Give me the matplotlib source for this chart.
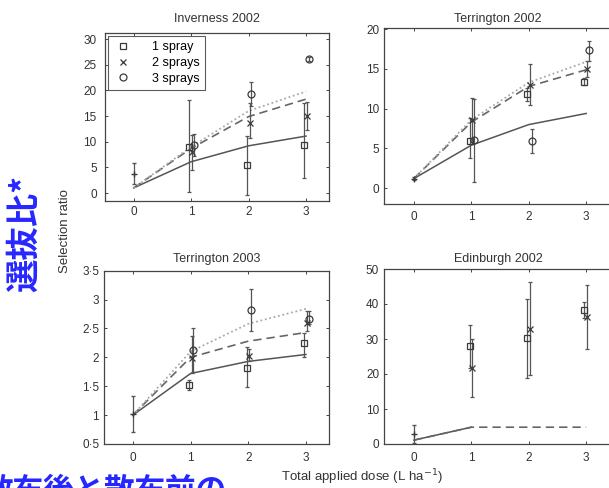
import matplotlib.pyplot as plt
from matplotlib.lines import Line2D

plt.rcParams['font.family'] = ['Liberation Sans', 'DejaVu Sans']

W, H = 609, 488

doses = [0, 1, 2, 3]
treated = [1, 2, 3]
spray_labels = ['1 spray', '2 sprays', '3 sprays']

# Inverness 2002
inv_fit1 = [1.0, 6.1, 9.2, 11.1]
inv_fit2 = [1.0, 8.7, 14.9, 18.3]
inv_fit3 = [1.0, 9.0, 16.0, 19.8]
inv_ctrl = [3.8, 1.75, 5.8]
inv_mean = [[9.0, 5.4, 9.3], [8.0, 13.6, 15.0], [9.3, 19.4, 26.2]]
inv_lo = [[0.1, -0.4, 3.0], [4.5, 10.8, 12.3], [7.2, 17.0, 25.8]]
inv_hi = [[18.2, 11.1, 17.6], [11.3, 17.5, 17.7], [11.5, 21.6, 26.6]]

# Terrington 2002
t02_fit1 = [1.2, 5.4, 8.0, 9.4]
t02_fit2 = [1.2, 8.3, 12.8, 14.9]
t02_fit3 = [1.2, 8.6, 13.3, 15.9]
t02_ctrl = [1.2, 1.0, 1.4]
t02_mean = [[5.9, 11.8, 13.4], [8.6, 13.0, 15.0], [6.0, 5.9, 17.4]]
t02_lo = [[3.8, 11.0, 13.0], [5.8, 10.5, 14.0], [0.8, 4.4, 16.0]]
t02_hi = [[8.8, 12.6, 13.9], [11.4, 15.6, 16.0], [11.2, 7.5, 18.5]]

# Terrington 2003
t03_fit1 = [1.0, 1.72, 1.93, 2.05]
t03_fit2 = [1.0, 2.0, 2.28, 2.43]
t03_fit3 = [1.0, 2.1, 2.58, 2.84]
t03_ctrl = [1.02, 0.71, 1.33]
t03_mean = [[1.53, 1.82, 2.24], [1.99, 2.02, 2.59], [2.13, 2.82, 2.67]]
t03_lo = [[1.44, 1.49, 2.01], [1.73, 1.93, 2.45], [1.75, 2.46, 2.58]]
t03_hi = [[1.6, 2.18, 2.42], [2.37, 2.14, 2.8], [2.5, 3.19, 2.8]]

# Edinburgh 2002 (no 3-spray plots)
edi_fit1 = [1.1, 4.8]
edi_fit2 = [1.1, 4.8, 4.8, 4.8]
edi_ctrl = [2.8, 0.3, 5.5]
edi_mean = [[28.0, 30.3, 38.4], [21.8, 32.9, 36.2]]
edi_lo = [[21.8, 18.9, 36.0], [13.3, 19.7, 27.1]]
edi_hi = [[34.0, 41.4, 40.5], [30.0, 46.3, 45.4]]

inv_yticks = [0, 5, 10, 15, 20, 25, 30]
t02_yticks = [0, 5, 10, 15, 20]
t03_yticks = [0.5, 1, 1.5, 2, 2.5, 3, 3.5]
t03_ylabels = ['0·5', '1', '1·5', '2', '2·5', '3', '3·5']
edi_yticks = [0, 10, 20, 30, 40, 50]

markers = ['s', 'x', 'o']
msizes = [4, 4.5, 5]
offsets = [-0.03, 0.02, 0.05]
fit_styles = [
    dict(color='#555555', lw=1.1, ls='-'),
    dict(color='#666666', lw=1.2, ls=(0, (5, 3))),
    dict(color='#aaaaaa', lw=1.3, ls=(0, (1, 1.5))),
]
ink = '#3a3a3a'


def axes_at(left, right, top, bottom):
    return fig.add_axes([left / W, 1 - bottom / H, (right - left) / W, (bottom - top) / H])


def panel(ax, title, fits, ctrl, mean, lo, hi, xlim, ylim, yticks, ylabels=None,
          title_pad=6, xpad=3.5, ypad=3.5):
    for i, f in enumerate(fits):
        ax.plot(doses[:len(f)], f, **fit_styles[i], zorder=2)
    ax.errorbar([0], [ctrl[0]], yerr=[[ctrl[0] - ctrl[1]], [ctrl[2] - ctrl[0]]],
                fmt='+', ms=4, color=ink, ecolor='#555555', elinewidth=0.9,
                capsize=1.5, zorder=3)
    for i in range(len(mean)):
        xs = [d + offsets[i] for d in treated]
        err = [[m - l for m, l in zip(mean[i], lo[i])],
               [h - m for m, h in zip(mean[i], hi[i])]]
        ax.errorbar(xs, mean[i], yerr=err, fmt=markers[i], ms=msizes[i],
                    mfc='none', mec=ink, mew=0.9, ecolor='#555555',
                    elinewidth=0.9, capsize=1.5, zorder=3)
    ax.set_xlim(*xlim)
    ax.set_ylim(*ylim)
    ax.set_xticks(doses)
    ax.set_yticks(yticks)
    if ylabels is not None:
        ax.set_yticklabels(ylabels)
    ax.set_title(title, fontsize=9, color='#333333', pad=title_pad)
    ax.tick_params(direction='in', top=True, right=True, length=2.5, width=0.7,
                   colors='#444444', labelsize=8.5, labelcolor='#333333')
    ax.tick_params(axis='x', pad=xpad)
    ax.tick_params(axis='y', pad=ypad)
    for s in ax.spines.values():
        s.set_color('#444444')
        s.set_linewidth(0.9)


fig = plt.figure(figsize=(W / 100, H / 100), dpi=100)

ax1 = axes_at(105, 329, 33, 200.7)
panel(ax1, 'Inverness 2002', [inv_fit1, inv_fit2, inv_fit3], inv_ctrl,
      inv_mean, inv_lo, inv_hi, (-0.5, 3.4), (-1.5, 31.2), inv_yticks,
      title_pad=8, xpad=3.5, ypad=6)
handles = [Line2D([], [], ls='none', marker=m, ms=s, mfc='none', mec=ink, mew=0.9)
           for m, s in zip(markers, msizes)]
leg = ax1.legend(handles, spray_labels, loc='upper left', fontsize=9,
                 fancybox=False, edgecolor='#333333', borderaxespad=0.25,
                 handlelength=1.5, handletextpad=1.6, labelspacing=0.3,
                 borderpad=0.4)
leg.get_frame().set_linewidth(0.8)

ax2 = axes_at(384, 612, 27.7, 204)
panel(ax2, 'Terrington 2002', [t02_fit1, t02_fit2, t02_fit3], t02_ctrl,
      t02_mean, t02_lo, t02_hi, (-0.52, 3.45), (-2, 20.2), t02_yticks,
      title_pad=4, xpad=5)

ax3 = axes_at(104, 329, 270.7, 444)
panel(ax3, 'Terrington 2003', [t03_fit1, t03_fit2, t03_fit3], t03_ctrl,
      t03_mean, t03_lo, t03_hi, (-0.5, 3.4), (0.5, 3.5), t03_yticks,
      ylabels=t03_ylabels, title_pad=6, xpad=6)

ax4 = axes_at(384, 612, 269, 444)
panel(ax4, 'Edinburgh 2002', [edi_fit1, edi_fit2], edi_ctrl,
      edi_mean, edi_lo, edi_hi, (-0.52, 3.45), (0, 50), edi_yticks,
      title_pad=5, xpad=6)

fig.text(65 / W, 1 - 231 / H, 'Selection ratio', rotation=90, ha='center',
         va='center', fontsize=9.5, color='#333333')
fig.text(362 / W, 1 - 477 / H, 'Total applied dose (L ha$^{-1}$)', ha='center',
         va='center', fontsize=9.5, color='#333333')

jp = ['Noto Sans CJK JP', 'DejaVu Sans']
blue = '#2626ff'
fig.text(24 / W, 1 - 233 / H, '選抜比*', rotation=90, ha='center', va='center',
         fontsize=24, fontweight='bold', color=blue, family=jp)
fig.text(-18 / W, 1 - 500 / H, '散布後と散布前の', ha='left', va='baseline',
         fontsize=22, fontweight='bold', color=blue, family=jp)

fig.savefig('out.png', dpi=100)
